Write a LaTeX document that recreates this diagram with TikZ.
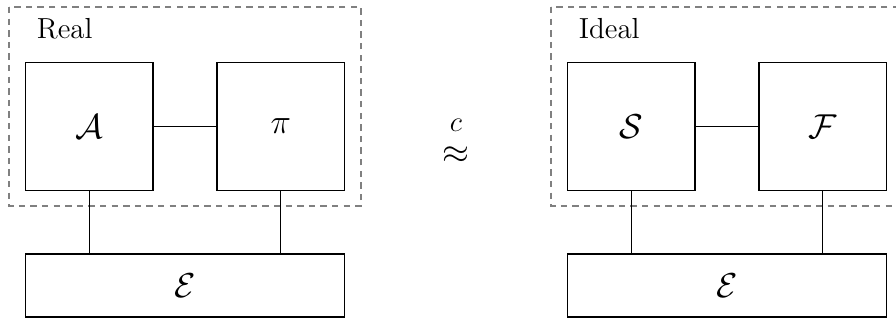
\documentclass[tikz,border=0pt]{standalone}
\usepackage{amsmath}
\begin{document}
\begin{tikzpicture}[x=0.5pt,y=-0.5pt,
  sq/.style={draw,line width=0.65pt,minimum width=63.75pt,minimum height=63.75pt,inner sep=0pt,font=\fontsize{17}{20}\selectfont},
  env/.style={draw,line width=0.65pt,minimum width=159.5pt,minimum height=31.5pt,inner sep=0pt,font=\fontsize{17}{20}\selectfont},
  conn/.style={line width=0.65pt},
  frame/.style={draw=black!50,line width=0.75pt,dash pattern=on 3.2pt off 2.6pt},
  lbl/.style={anchor=base west,inner sep=0pt,font=\fontsize{14.5}{17}\selectfont},
  rel/.style={inner sep=0pt,anchor=base}]
\useasboundingbox (0,0) rectangle (896,321);
% Real
\draw[frame] (9,7) rectangle (361,206);
\node[lbl] (real) at (36.5,38.5) {Real};
\node[sq] (A) at (89.25,126.5) {$\mathcal{A}$};
\node[sq] (P) at (280.75,126.5) {$\pi$};
\node[env] (E1) at (185,285.5) {$\mathcal{E}$};
\draw[conn] (A) -- (P);
\draw[conn] (A.south) -- (A.south |- E1.north);
\draw[conn] (P.south) -- (P.south |- E1.north);
% approx
\node[rel,font=\fontsize{15}{18}\selectfont] (cc) at (456,131) {$c$};
\node[rel,font=\fontsize{18}{20}\selectfont] (apx) at (456,163) {$\approx$};
% Ideal
\draw[frame] (551,7) rectangle (903,206);
\node[lbl] (ideal) at (578.5,38.5) {Ideal};
\node[sq] (S) at (631.25,126.5) {$\mathcal{S}$};
\node[sq] (F) at (822.75,126.5) {$\mathcal{F}$};
\node[env] (E2) at (727,285.5) {$\mathcal{E}$};
\draw[conn] (S) -- (F);
\draw[conn] (S.south) -- (S.south |- E2.north);
\draw[conn] (F.south) -- (F.south |- E2.north);
\end{tikzpicture}
\end{document}
